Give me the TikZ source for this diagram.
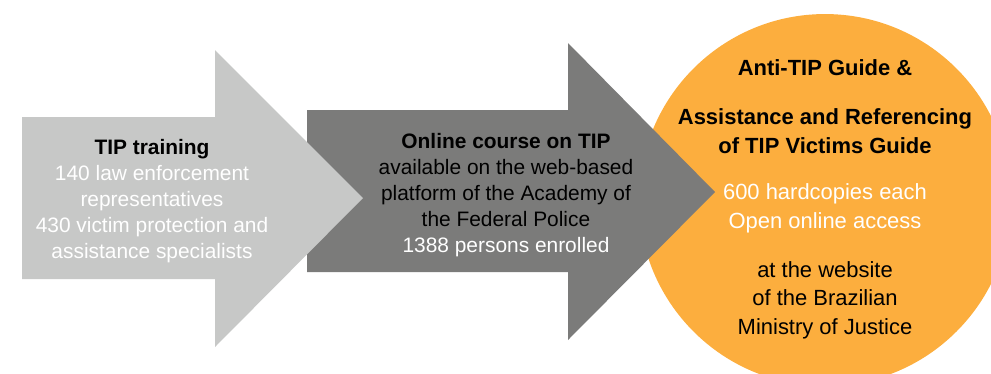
\documentclass[tikz,border=0pt]{standalone}
\usepackage{fontspec}
\setmainfont{Liberation Sans}
\definecolor{lightarrow}{RGB}{199,200,199}
\definecolor{darkarrow}{RGB}{123,123,122}
\definecolor{guideorange}{RGB}{252,174,62}

\begin{document}
\begin{tikzpicture}[
    x=0.02cm, y=-0.02cm,
    txt/.style={align=center, inner sep=0pt, font=\fontsize{11.9}{14.8}\selectfont},
    guidetxt/.style={align=center, inner sep=0pt, font=\fontsize{12.5}{16.3}\selectfont},
    light/.style={text=white}
]
    \useasboundingbox (0,0) rectangle (991,373);
    \clip (0,0) rectangle (991,373);

    % Guide circle (cut by the picture border)
    \node[circle, fill=guideorange, minimum size=7.44cm, inner sep=0pt] (guide) at (825,200) {};

    % Arrows
    \fill[darkarrow] (307,110) -- (568,110) -- (568,43) -- (715,192) -- (568,340) -- (568,272) -- (307,272) -- cycle;
    \fill[lightarrow] (22,117) -- (215,117) -- (215,50) -- (363,198) -- (215,347) -- (215,279) -- (22,279) -- cycle;

    % Arrow texts
    \node[txt] (training) at (152,201) {\textbf{TIP training}\\
        \textcolor{white}{140 law enforcement}\\
        \textcolor{white}{representatives}\\
        \textcolor{white}{430 victim protection and}\\
        \textcolor{white}{assistance specialists}};
    \node[txt] (course) at (506,195) {\textbf{Online course on TIP}\\
        available on the web-based\\
        platform of the Academy of\\
        the Federal Police\\
        \textcolor{white}{1388 persons enrolled}};

    % Circle texts
    \node[guidetxt, font=\fontsize{12.5}{16.3}\selectfont\bfseries] (antitip) at (825,68) {Anti-TIP Guide \&};
    \node[guidetxt, font=\fontsize{12.5}{16.3}\selectfont\bfseries] (assist) at (825,131) {Assistance and Referencing\\of TIP Victims Guide};
    \node[guidetxt, light] (copies) at (825,208) {600 hardcopies each\\Open online access};
    \node[guidetxt] (website) at (825,300) {at the website\\of the Brazilian\\Ministry of Justice};
\end{tikzpicture}
\end{document}
